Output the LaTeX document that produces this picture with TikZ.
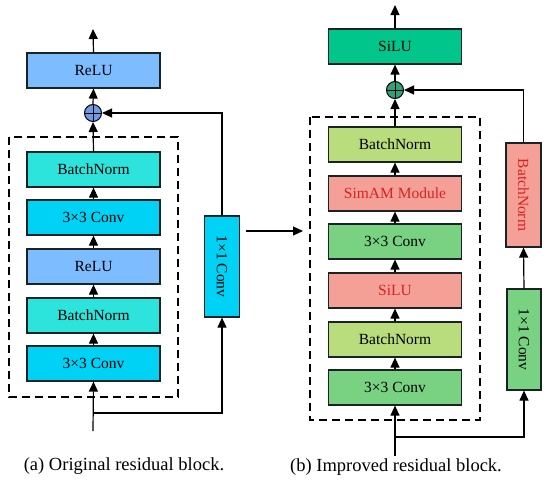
\documentclass[tikz,border=0pt]{standalone}
\usepackage{fontspec}
\setmainfont{Liberation Serif}
\usetikzlibrary{arrows.meta}
\definecolor{relublue}{RGB}{125,188,255}
\definecolor{bnturq}{RGB}{45,228,220}
\definecolor{convcyan}{RGB}{0,210,245}
\definecolor{plusblue}{RGB}{110,155,230}
\definecolor{silugreen}{RGB}{0,198,140}
\definecolor{bnlime}{RGB}{185,220,125}
\definecolor{salmon}{RGB}{245,160,150}
\definecolor{convgreen}{RGB}{120,210,130}
\definecolor{plusgreen}{RGB}{50,160,120}
\definecolor{redtext}{RGB}{215,35,35}
\definecolor{edge}{RGB}{25,35,35}
\tikzset{
  blk/.style={draw=edge, line width=1.2pt, minimum width=133pt, minimum height=35pt, inner sep=0pt, font=\fontsize{15.5}{18}\selectfont},
  vblk/.style={draw=edge, line width=1.2pt, minimum width=101pt, minimum height=35pt, inner sep=0pt, rotate=-90, font=\fontsize{15.5}{18}\selectfont},
  plus/.style={draw=black, line width=1pt, circle, minimum size=17pt, inner sep=0pt, path picture={\draw[line width=1pt] (path picture bounding box.north) -- (path picture bounding box.south) (path picture bounding box.west) -- (path picture bounding box.east);}},
  arr/.style={-{Triangle[length=10pt,width=9pt]}, line width=1.2pt},
  dbox/.style={draw=black, line width=1.3pt, dash pattern=on 8pt off 5pt},
  captxt/.style={font=\fontsize{18.5}{22}\selectfont}
}
\begin{document}
\begin{tikzpicture}[x=1pt,y=1pt]
\useasboundingbox (0,0) rectangle (550,-480);
% ---------- left block ----------
\draw[dbox] (9,-137) rectangle (178,-397);
\node[blk, fill=relublue] (lrelu) at (93.5,-70.5) {ReLU};
\node[plus, fill=plusblue] (lplus) at (93,-113) {};
\node[blk, fill=bnturq] (lbn1) at (93.5,-169.5) {BatchNorm};
\node[blk, fill=convcyan] (lconv1) at (93.5,-217.5) {3×3 Conv};
\node[blk, fill=relublue] (lrelu2) at (93.5,-266.5) {ReLU};
\node[blk, fill=bnturq] (lbn2) at (93.5,-315.5) {BatchNorm};
\node[blk, fill=convcyan] (lconv2) at (93.5,-363.5) {3×3 Conv};
\node[vblk, fill=convcyan] (lc11) at (222,-266.5) {1×1 Conv};
\coordinate (lin) at (93,-431);
\coordinate (lsplit) at (93,-413);
\coordinate (lout) at (93,-29);
\draw[arr] (lrelu.north) -- (lout);
\draw[arr] (lplus.north) -- (lrelu.south);
\draw[arr] (lbn1.north) -- (lplus.south);
\draw[arr] (lconv1.north) -- (lbn1.south);
\draw[arr] (lrelu2.north) -- (lconv1.south);
\draw[arr] (lbn2.north) -- (lrelu2.south);
\draw[arr] (lconv2.north) -- (lbn2.south);
\draw[arr] (lin) -- (lconv2.south);
\draw[arr] (lsplit) -| (lc11.east);
\draw[arr] (lc11.west) |- (lplus.east);
% ---------- middle arrow ----------
\coordinate (ma) at (246,-231);
\coordinate (mb) at (303,-231);
\draw[arr] (ma) -- (mb);
% ---------- right block ----------
\draw[dbox] (310,-117) rectangle (480,-420);
\node[blk, fill=silugreen] (rsilu) at (395,-46.5) {SiLU};
\node[plus, fill=plusgreen] (rplus) at (395,-90) {};
\node[blk, fill=bnlime] (rbn1) at (395,-144.5) {BatchNorm};
\node[blk, fill=salmon, text=redtext] (rsim) at (395,-193.5) {SimAM Module};
\node[blk, fill=convgreen] (rconv1) at (395,-241.5) {3×3 Conv};
\node[blk, fill=salmon, text=redtext] (rsilu2) at (395,-290.5) {SiLU};
\node[blk, fill=bnlime] (rbn2) at (395,-339.5) {BatchNorm};
\node[blk, fill=convgreen] (rconv2) at (395,-387.5) {3×3 Conv};
\node[vblk, fill=convgreen, minimum width=101pt, minimum height=34pt] (rc11) at (524,-339.5) {1×1 Conv};
\node[vblk, fill=salmon, text=redtext, minimum width=104pt, minimum height=35pt] (rbnv) at (523.5,-195) {BatchNorm};
\coordinate (rin) at (395,-456);
\coordinate (rsplit) at (395,-437);
\coordinate (rout) at (395,-5);
\draw[arr] (rsilu.north) -- (rout);
\draw[arr] (rplus.north) -- (rsilu.south);
\draw[arr] (rbn1.north) -- (rplus.south);
\draw[arr] (rsim.north) -- (rbn1.south);
\draw[arr] (rconv1.north) -- (rsim.south);
\draw[arr] (rsilu2.north) -- (rconv1.south);
\draw[arr] (rbn2.north) -- (rsilu2.south);
\draw[arr] (rconv2.north) -- (rbn2.south);
\draw[arr] (rin) -- (rconv2.south);
\draw[arr] (rsplit) -| (rc11.east);
\draw[arr] (rc11.west) -- (rbnv.east);
\draw[arr] (rbnv.west) |- (rplus.east);
% ---------- captions ----------
\node[captxt] (capa) at (124,-466) {(a) Original residual block.};
\node[captxt] (capb) at (396,-467) {(b) Improved residual block.};
\end{tikzpicture}
\end{document}
